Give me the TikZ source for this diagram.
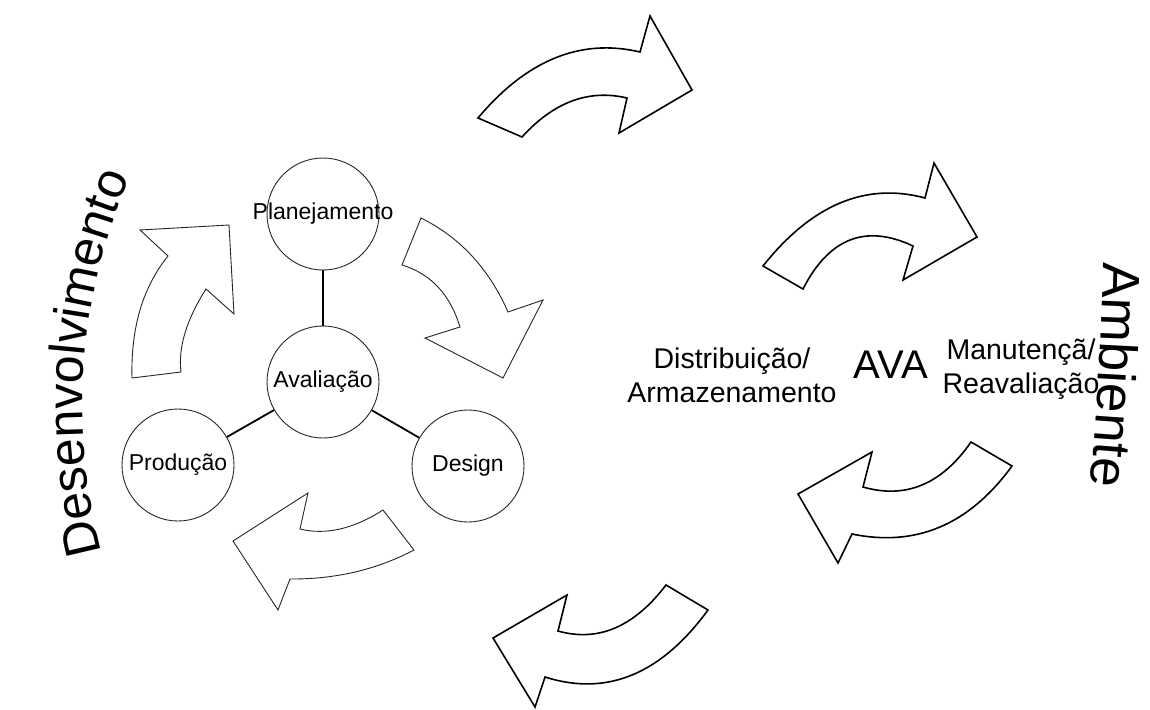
\documentclass[tikz,border=0pt]{standalone}
\usepackage{fontspec}
\setmainfont{Liberation Sans}
\usetikzlibrary{decorations.text}
\newcommand\devfont{\fontsize{50}{60}\selectfont}
\newcommand\ambfont{\fontsize{53}{63}\selectfont}
\begin{document}
\begin{tikzpicture}[x=1pt,y=-1pt,
  bigarrow/.style={draw=black, line width=1.6pt, fill=white, line join=miter},
  smallarrow/.style={draw=black!85, line width=0.9pt, fill=white, line join=miter},
  stage/.style={circle, draw=black!85, line width=0.9pt, minimum size=112pt, inner sep=0pt},
  stagetext/.style={inner sep=0pt, font=\fontsize{23}{27}\selectfont},
  link/.style={line width=1.8pt},
  phase/.style={inner sep=0pt, align=center, font=\fontsize{28.5}{34}\selectfont}]

\useasboundingbox (0,0) rectangle (1150,709);

% development cycle: four stages
\node[stage] (plan) at (323,214) {};
\node[stage] (aval) at (323,382) {};
\node[stage] (prod) at (178,465) {};
\node[stage] (design) at (468,466) {};
\node[stagetext] (plan-t) at (plan) {Planejamento};
\node[stagetext] (aval-t) at (aval) {Avaliação};
\node[stagetext] (prod-t) at (prod) {Produção};
\node[stagetext] (design-t) at (design) {Design};

\draw[link] (plan) -- (aval);
\draw[link] (aval) -- (prod);
\draw[link] (aval) -- (design);

% small cycle arrows around the stages
\draw[smallarrow] (168,256) .. controls (142.7,287.3) and (130.7,328) .. (132,378) -- (181,372)
  .. controls (178,347.7) and (186.3,320) .. (206,289) -- (234,314) -- (229,225) -- (140,230) -- cycle;
\draw[smallarrow] (508,312) .. controls (489,268.7) and (460,237.3) .. (421,218) -- (402,265)
  .. controls (430.7,273.7) and (450,294.3) .. (460,327) -- (425,338) -- (503,378) -- (543,300) -- cycle;
\draw[smallarrow] (300,529) .. controls (325.7,535.3) and (353.3,529) .. (383,510) -- (414,550)
  .. controls (376.7,569.7) and (335.3,579.3) .. (290,579) -- (278,610) -- (233,541) -- (308,493) -- cycle;

% large arrows between development and environment
\draw[bigarrow] (478,118) .. controls (526.7,60) and (580.7,38) .. (640,52) -- (650,16) -- (692,90)
  -- (619,133) -- (627,98) .. controls (588.7,89) and (553.7,102) .. (522,137) -- cycle;
\draw[bigarrow] (763,266) .. controls (811.7,204.7) and (865.7,182) .. (925,198) -- (934,163) -- (977,237)
  -- (903,280) -- (913,246) .. controls (865.7,223.7) and (829,238) .. (803,289) -- cycle;
\draw[bigarrow] (863,487) .. controls (905.7,499.3) and (941.7,484.3) .. (971,442) -- (1012,466)
  .. controls (969.3,524.7) and (916,547.3) .. (852,534) -- (838,563) -- (798,494) -- (872,452) -- cycle;
\draw[bigarrow] (558,631) .. controls (598,642.3) and (634,627) .. (666,585) -- (708,610)
  .. controls (661,674.3) and (606.7,696.7) .. (545,677) -- (535,707) -- (493,638) -- (567,595) -- cycle;

% phase labels
\node[phase] (dist) at (732,375) {Distribuição/\\Armazenamento};
\node[inner sep=0pt, font=\fontsize{40}{48}\selectfont] (ava) at (891,365) {AVA};
\node[phase] (manut) at (1021,369) {Manutençã/\\Reavaliação};

% curved titles
\path[decorate, decoration={text along path, text align=left,
  text={|\devfont|Desenvolvimento}}]
  (102.1,552.6) .. controls (63,406.6) and (83.5,251) .. (159.1,120.1);
\path[decorate, decoration={text along path, text align=left,
  text={|\ambfont|Ambiente}}]
  (1103,262) .. controls (1101,348) and (1095.7,434) .. (1087,520);
\end{tikzpicture}
\end{document}
